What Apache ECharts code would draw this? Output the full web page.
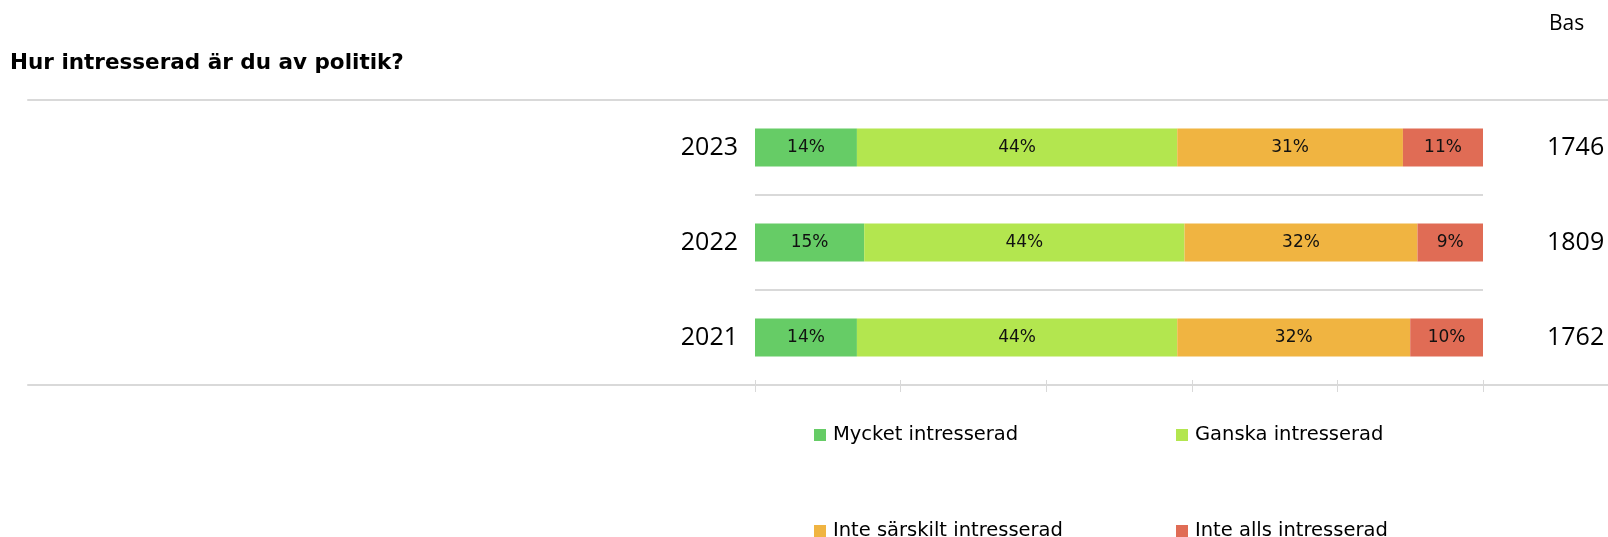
<!DOCTYPE html>
<html>
<head>
<meta charset="utf-8">
<script src="https://cdn.jsdelivr.net/npm/echarts@6/dist/echarts.min.js"></script>
<style>
html,body{margin:0;padding:0;background:#fff;}
#main{width:1608px;height:537px;}
</style>
</head>
<body>
<div id="main"></div>
<script>
const years = ['2021', '2022', '2023'];
const basValues = ['1762', '1809', '1746'];
const seriesNames = ['Mycket intresserad', 'Ganska intresserad', 'Inte särskilt intresserad', 'Inte alls intresserad'];
const mycket = [14, 15, 14];
const ganska = [44, 44, 44];
const inteSarskilt = [32, 32, 31];
const inteAlls = [10, 9, 11];
const colors = ['#66cc66', '#b3e64f', '#f0b441', '#e06c55'];
const xTicks = [0, 20, 40, 60, 80, 100];

const FONT = 'Open Sans';
const WIDE = 'DejaVu Sans';
const values = [mycket, ganska, inteSarskilt, inteAlls];

const chart = echarts.init(document.getElementById('main'), null, {renderer: 'canvas'});

const series = seriesNames.map((name, i) => ({
  name: name,
  type: 'bar',
  stack: 'total',
  xAxisIndex: 0,
  yAxisIndex: 0,
  barWidth: 38,
  data: values[i],
  itemStyle: {color: colors[i]},
  label: {
    show: true,
    position: 'inside',
    formatter: '{c}%',
    color: '#111',
    fontFamily: WIDE,
    fontSize: 17
  },
  emphasis: {disabled: true}
}));

const legendPos = [
  {left: 814, top: 425},
  {left: 1176, top: 425},
  {left: 814, top: 521},
  {left: 1176, top: 521}
];

chart.setOption({
  animation: false,
  backgroundColor: '#fff',
  title: [
    {
      text: 'Hur intresserad är du av politik?',
      left: 10, top: 52, padding: 0,
      textStyle: {fontFamily: WIDE, fontSize: 21.5, fontWeight: 'bold', color: '#000'}
    },
    {
      text: 'Bas',
      left: 1549, top: 14, padding: 0,
      textStyle: {fontFamily: FONT, fontSize: 21, fontWeight: 'normal', color: '#000'}
    }
  ],
  legend: seriesNames.map((n, i) => ({
    data: [n],
    left: legendPos[i].left,
    top: legendPos[i].top,
    padding: 0,
    itemWidth: 12,
    itemHeight: 12,
    icon: 'rect',
    selectedMode: false,
    textStyle: {fontFamily: WIDE, fontSize: 19.5, color: '#000', padding: [0, 0, 0, 2]}
  })),
  grid: [
    {left: 755, right: 125, top: 100, bottom: 152},
    {left: 28, right: 0, top: 100, bottom: 152}
  ],
  xAxis: [
    {
      type: 'value', gridIndex: 0, min: 0, max: 100, interval: 20,
      axisLine: {show: false},
      axisTick: {show: true, length: 7, lineStyle: {color: '#d9d9d9', width: 1}},
      axisLabel: {show: false},
      splitLine: {show: false}
    },
    {
      type: 'value', gridIndex: 0, min: 0, max: 100, interval: 20, position: 'bottom',
      axisLine: {show: false},
      axisTick: {show: true, inside: true, length: 5, lineStyle: {color: '#d9d9d9', width: 1}},
      axisLabel: {show: false},
      splitLine: {show: false}
    },
    {
      type: 'value', gridIndex: 1, min: 0, max: 1, position: 'bottom',
      axisLine: {show: true, lineStyle: {color: '#d9d9d9', width: 2}},
      axisTick: {show: false}, axisLabel: {show: false}, splitLine: {show: false}
    },
    {
      type: 'value', gridIndex: 1, min: 0, max: 1, position: 'top',
      axisLine: {show: true, lineStyle: {color: '#d9d9d9', width: 2}},
      axisTick: {show: false}, axisLabel: {show: false}, splitLine: {show: false}
    }
  ],
  yAxis: [
    {
      type: 'category', gridIndex: 0, data: years,
      axisLine: {show: false}, axisTick: {show: false},
      axisLabel: {margin: 17, fontFamily: FONT, fontSize: 25, color: '#000'},
      splitLine: {show: true, lineStyle: {color: '#d9d9d9', width: 2}}
    },
    {
      type: 'category', gridIndex: 0, data: basValues, position: 'right',
      axisLine: {show: false}, axisTick: {show: false},
      axisLabel: {margin: 64, fontFamily: FONT, fontSize: 25, color: '#000'},
      splitLine: {show: false}
    },
    {
      type: 'value', gridIndex: 1, min: 0, max: 1, show: false
    }
  ],
  series: series
});
</script>
</body>
</html>
